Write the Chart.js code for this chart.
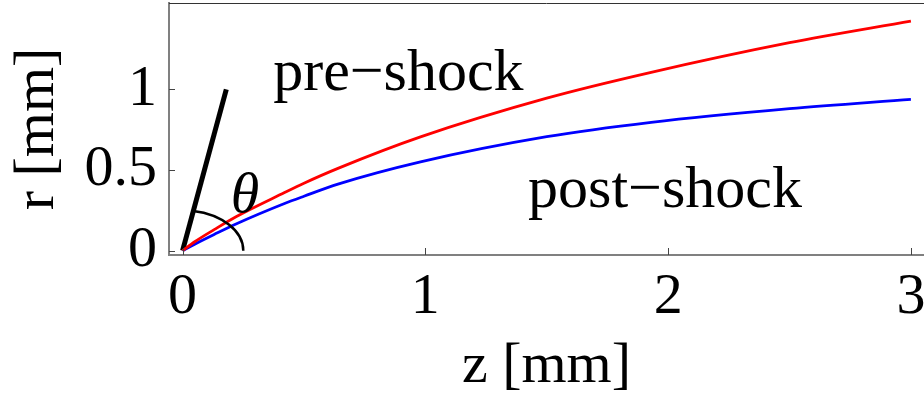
<!DOCTYPE html>
<html>
<head>
<meta charset="utf-8">
<title>shock front</title>
<script src="https://cdn.jsdelivr.net/npm/chart.js@4.4.1/dist/chart.umd.min.js"></script>
<style>
  html, body { margin:0; padding:0; background:#fff; }
  #wrap { width:924px; height:398px; }
</style>
</head>
<body>
<div id="wrap"><canvas id="shock-chart" width="924" height="398"></canvas></div>
<script>
'use strict';

// ── data ──
const zValues   = [0, 0.05, 0.13, 0.22, 0.42, 0.5, 0.64, 0.98, 1.5, 1.93, 2.5, 3.0];
const preShock  = [0, 0.055, 0.13, 0.21, 0.36, 0.418, 0.51, 0.705, 0.945, 1.105, 1.289, 1.423];
const postShock = [0, 0.04, 0.1, 0.165, 0.292, 0.337, 0.412, 0.55, 0.706, 0.795, 0.88, 0.938];

// angle marker: thick ray from the origin + arc of radius 0.25
const rayZ = [0, 0.18];
const rayR = [0, 1.0];
const arcRadius = 0.25;

const xTicks = [0, 1, 2, 3];
const yTicks = [0, 0.5, 1];

const FONT = "'Liberation Serif', 'Times New Roman', serif";

const toPts = (xs, ys) => xs.map((x, i) => ({ x, y: ys[i] }));

// ── annotations, frame top, inward tick marks ──
const annotate = {
  id: 'annotate',
  afterDatasetsDraw(chart) {
    const { ctx, chartArea: a, scales: { x, y } } = chart;
    ctx.save();

    // arc between ray and z axis
    const cx = x.getPixelForValue(0), cy = y.getPixelForValue(0);
    const rx = x.getPixelForValue(arcRadius) - cx;
    const ry = cy - y.getPixelForValue(arcRadius);
    const t  = Math.atan2(rayR[1], rayZ[1]);
    ctx.beginPath();
    ctx.ellipse(cx, cy, rx, ry, 0, -t, 0);
    ctx.strokeStyle = '#000';
    ctx.lineWidth = 2.5;
    ctx.stroke();

    // labels
    ctx.fillStyle = '#000';
    ctx.textBaseline = 'alphabetic';
    ctx.textAlign = 'left';
    ctx.font = `60px ${FONT}`;
    ctx.fillText('pre\u2212shock',  x.getPixelForValue(0.373), y.getPixelForValue(0.996));
    ctx.fillText('post\u2212shock', x.getPixelForValue(1.423), y.getPixelForValue(0.271));
    ctx.font = `italic 58px ${FONT}`;
    ctx.textAlign = 'center';
    ctx.textBaseline = 'middle';
    ctx.fillText('\u03b8', x.getPixelForValue(0.257), y.getPixelForValue(0.333));

    // top frame line
    ctx.beginPath();
    ctx.moveTo(a.left, a.top + 0.5);
    ctx.lineTo(a.right, a.top + 0.5);
    ctx.strokeStyle = '#333';
    ctx.lineWidth = 1;
    ctx.stroke();

    // inward ticks
    ctx.strokeStyle = '#444';
    ctx.lineWidth = 1;
    ctx.beginPath();
    xTicks.forEach(v => {
      const px = Math.round(x.getPixelForValue(v)) + 0.5;
      ctx.moveTo(px, a.bottom);
      ctx.lineTo(px, a.bottom - 7);
    });
    yTicks.forEach(v => {
      const py = Math.round(y.getPixelForValue(v)) + 0.5;
      ctx.moveTo(a.left, py);
      ctx.lineTo(a.left + 6, py);
    });
    ctx.stroke();
    ctx.restore();
  }
};

new Chart(document.getElementById('shock-chart').getContext('2d'), {
  type: 'line',
  data: {
    datasets: [
      { label: 'pre-shock',  data: toPts(zValues, preShock),  borderColor: '#ff0000', borderWidth: 2.8, cubicInterpolationMode: 'monotone' },
      { label: 'post-shock', data: toPts(zValues, postShock), borderColor: '#0000ff', borderWidth: 2.8, cubicInterpolationMode: 'monotone' },
      { label: 'ray',        data: toPts(rayZ, rayR),         borderColor: '#000000', borderWidth: 5, borderCapStyle: 'butt' },
    ]
  },
  options: {
    responsive: false,
    animation: false,
    events: [],
    layout: { padding: { top: 3, left: 0, right: 0, bottom: 0 } },
    elements: { point: { radius: 0 } },
    plugins: { legend: { display: false }, tooltip: { enabled: false } },
    scales: {
      x: {
        type: 'linear',
        min: -0.056, max: 3.054,
        afterBuildTicks: s => { s.ticks = xTicks.map(v => ({ value: v })); },
        afterFit: s => { s.height = 143; s.paddingLeft = 0; s.paddingRight = 0; },
        grid: { display: false, drawTicks: false },
        border: { display: true, color: '#808080', width: 2 },
        ticks: { color: '#000', padding: 8, font: { family: FONT, size: 58 }, maxRotation: 0,
                 callback: v => String(v) },
        title: { display: true, text: 'z [mm]', color: '#000',
                 font: { family: FONT, size: 58, lineHeight: 1 }, padding: { top: 0, bottom: 2 } },
      },
      y: {
        type: 'linear',
        min: -0.027, max: 1.535,
        afterBuildTicks: s => { s.ticks = yTicks.map(v => ({ value: v })); },
        afterFit: s => { s.width = 169; s.paddingTop = 0; s.paddingBottom = 0; },
        grid: { display: false, drawTicks: false },
        border: { display: true, color: '#808080', width: 2 },
        ticks: { color: '#000', padding: 12, font: { family: FONT, size: 58 },
                 callback: v => String(v) },
        title: { display: true, text: 'r [mm]', color: '#000',
                 font: { family: FONT, size: 58, lineHeight: 1 }, padding: { top: 9, bottom: 0 } },
      }
    }
  },
  plugins: [annotate]
});
</script>
</body>
</html>
